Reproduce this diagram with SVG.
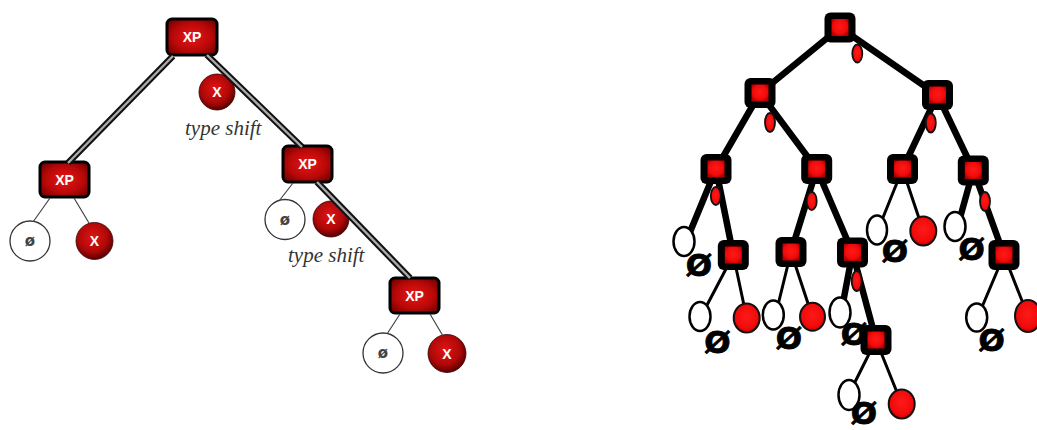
<svg xmlns="http://www.w3.org/2000/svg" width="1037" height="430" viewBox="0 0 1037 430">
<defs>
<radialGradient id="gBox" cx="50%" cy="50%" r="65%">
<stop offset="0" stop-color="#e81616"/><stop offset="0.6" stop-color="#b80808"/><stop offset="1" stop-color="#6e0000"/>
</radialGradient>
<radialGradient id="gBall" cx="45%" cy="40%" r="60%">
<stop offset="0" stop-color="#e01414"/><stop offset="0.65" stop-color="#b00808"/><stop offset="1" stop-color="#5a0000"/>
</radialGradient>
<radialGradient id="gRed" cx="50%" cy="45%" r="60%">
<stop offset="0" stop-color="#ff1a1a"/><stop offset="0.7" stop-color="#f00a0a"/><stop offset="1" stop-color="#b00000"/>
</radialGradient>
<g id="sq"><rect x="-15.5" y="-15" width="31" height="30" rx="6" fill="#000"/><rect x="-8.5" y="-8.5" width="17" height="17" fill="url(#gRed)"/></g>
</defs>
<style>
.xp rect{fill:url(#gBox);stroke:#000;stroke-width:3}
.lbl{font-family:"Liberation Sans",Arial,sans-serif;font-weight:bold;fill:#fff;text-anchor:middle;dominant-baseline:central}
.ball{fill:url(#gBall);stroke:#3a0000;stroke-width:0.8}
.empty{fill:#fff;stroke:#333;stroke-width:1.3}
.emt{font-family:"DejaVu Sans",sans-serif;font-weight:bold;font-size:15px;fill:#444;text-anchor:middle;dominant-baseline:central}
.ts{font-family:"Liberation Serif","Times New Roman",serif;font-style:italic;font-size:21px;fill:#333}
.thin{stroke:#444;stroke-width:1.2;fill:none}
.tripO{stroke:#111;stroke-width:6.5;fill:none}
.tripI{stroke:#aaa;stroke-width:2.4;fill:none}
.rk{stroke:#000;fill:none;stroke-linecap:round}
.thick{stroke-width:6.5}
.rthin{stroke-width:3}
.we{fill:#fff;stroke:#000;stroke-width:2.5}
.rb{fill:url(#gRed);stroke:#111;stroke-width:2}
.mk{fill:url(#gRed);stroke:#111;stroke-width:1.8}
.nul{font-family:"DejaVu Sans",sans-serif;font-weight:bold;font-size:31px;fill:#000;stroke:#000;stroke-width:0.8;text-anchor:middle;dominant-baseline:central}
</style>

<!-- left tree nodes -->
<g id="L-xp-root" class="xp"><rect x="167" y="19" width="50" height="36" rx="5"/><text class="lbl" x="192" y="37" font-size="14">XP</text></g>
<g id="L-x-root"><circle class="ball" cx="217" cy="92" r="18"/><text class="lbl" x="217" y="92" font-size="14">X</text></g>
<g id="L-ts1"><text class="ts" x="185" y="135">type shift</text></g>
<g id="L-xp-left" class="xp"><rect x="40" y="162" width="49" height="35" rx="5"/><text class="lbl" x="64.5" y="179.5" font-size="14">XP</text></g>
<g id="L-empty-left"><circle class="empty" cx="30" cy="241" r="20"/><text class="emt" x="30" y="241">ø</text></g>
<g id="L-x-left"><circle class="ball" cx="94.5" cy="241" r="18.5"/><text class="lbl" x="94.5" y="241" font-size="14">X</text></g>
<g id="L-xp-mid" class="xp"><rect x="283" y="146" width="49" height="36" rx="5"/><text class="lbl" x="307.5" y="164" font-size="14">XP</text></g>
<g id="L-empty-mid"><circle class="empty" cx="285" cy="219.5" r="20"/><text class="emt" x="285" y="219.5">ø</text></g>
<g id="L-x-mid"><circle class="ball" cx="331" cy="219" r="18"/><text class="lbl" x="331" y="219" font-size="14">X</text></g>
<g id="L-ts2"><text class="ts" x="288" y="262">type shift</text></g>
<g id="L-xp-bot" class="xp"><rect x="390" y="278" width="49" height="35" rx="5"/><text class="lbl" x="414.5" y="295.5" font-size="14">XP</text></g>
<g id="L-empty-bot"><circle class="empty" cx="383" cy="353" r="20"/><text class="emt" x="383" y="353">ø</text></g>
<g id="L-x-bot"><circle class="ball" cx="447" cy="353.5" r="19"/><text class="lbl" x="447" y="353.5" font-size="14">X</text></g>

<!-- connectors -->
<g id="connectors">
<path class="tripO" d="M173,56 L68,163 M207,55 L302,147 M317,182 L410,278"/>
<path class="tripI" d="M173,56 L68,163 M207,55 L302,147 M317,182 L410,278"/>
<path class="thin" d="M50,198 L33,222 M74,198 L89,223 M293,183 L279,201 M400,314 L387,334 M430,314 L443,336"/>
<g class="rk thick">
<path d="M840,27.5 L760,93 M840,27.5 L937.5,95 M760,93 L716,169 M760,93 L816.7,169 M937.5,95 L902.5,169 M937.5,95 L973.3,170 M716,169 L690,232 M716,169 L733.3,255 M816.7,169 L791,252 M816.7,169 L852.5,252.5 M973.3,170 L960,218 M973.3,170 L1004,255 M852.5,252.5 L843,303 M852.5,252.5 L876,340"/>
</g>
<g class="rk rthin">
<path d="M902.5,169 L882,220 M902.5,169 L923.3,231 M733.3,255 L706,307 M733.3,255 L746.7,318 M791,252 L778,305 M791,252 L812.5,317 M876,340 L853,386 M876,340 L901.7,404 M1004,255 L982,307 M1004,255 L1028,316"/>
</g>
</g>

<!-- right tree nodes -->
<g id="R-empty-3"><ellipse class="we" cx="684" cy="241.5" rx="10.5" ry="14.5"/><text class="nul" x="699" y="265">Ø</text></g>
<g id="R-empty-5"><ellipse class="we" cx="877" cy="230" rx="10" ry="14.5"/><text class="nul" x="895" y="251">Ø</text></g>
<g id="R-x-5"><ellipse class="rb" cx="923.3" cy="231" rx="13" ry="14.5"/></g>
<g id="R-empty-6"><ellipse class="we" cx="955" cy="226.5" rx="10.5" ry="14.5"/><text class="nul" x="971.7" y="249">Ø</text></g>
<g id="R-empty-7"><ellipse class="we" cx="700" cy="316.5" rx="10.5" ry="14.5"/><text class="nul" x="717.5" y="341.5">Ø</text></g>
<g id="R-x-7"><ellipse class="rb" cx="746.7" cy="318" rx="13" ry="14.5"/></g>
<g id="R-empty-8"><ellipse class="we" cx="773.3" cy="315" rx="10.5" ry="14.5"/><text class="nul" x="789" y="338.3">Ø</text></g>
<g id="R-x-8"><ellipse class="rb" cx="812.5" cy="316.7" rx="12.5" ry="14"/></g>
<g id="R-empty-9"><ellipse class="we" cx="840" cy="312.5" rx="10.5" ry="15"/><text class="nul" x="854" y="334">Ø</text></g>
<g id="R-empty-10"><ellipse class="we" cx="849" cy="395" rx="10.5" ry="15"/><text class="nul" x="864" y="413">Ø</text></g>
<g id="R-x-10"><ellipse class="rb" cx="901.7" cy="404" rx="13" ry="14.5"/></g>
<g id="R-empty-11"><ellipse class="we" cx="976.7" cy="317.5" rx="10.5" ry="14"/><text class="nul" x="991.7" y="340">Ø</text></g>
<g id="R-x-11"><ellipse class="rb" cx="1028" cy="316" rx="13" ry="16"/></g>

<g id="R-n0"><use href="#sq" x="840" y="27.5"/></g>
<g id="R-n1"><use href="#sq" x="760" y="93"/></g>
<g id="R-n2"><use href="#sq" x="937.5" y="95"/></g>
<g id="R-n3"><use href="#sq" x="716" y="169"/></g>
<g id="R-n4"><use href="#sq" x="816.7" y="169"/></g>
<g id="R-n5"><use href="#sq" x="902.5" y="169"/></g>
<g id="R-n6"><use href="#sq" x="973.3" y="170.5"/></g>
<g id="R-n7"><use href="#sq" x="733.3" y="255"/></g>
<g id="R-n8"><use href="#sq" x="791" y="252"/></g>
<g id="R-n9"><use href="#sq" x="852.5" y="252.5"/></g>
<g id="R-n10"><use href="#sq" x="876" y="340"/></g>
<g id="R-n11"><use href="#sq" x="1004" y="255"/></g>

<g id="R-markers">
<ellipse class="mk" cx="857.3" cy="53.5" rx="5" ry="9"/>
<ellipse class="mk" cx="770" cy="122.5" rx="5" ry="9.5"/>
<ellipse class="mk" cx="930.8" cy="123" rx="5" ry="9.5"/>
<ellipse class="mk" cx="715.8" cy="196" rx="5" ry="9"/>
<ellipse class="mk" cx="811.7" cy="201" rx="5" ry="9"/>
<ellipse class="mk" cx="985" cy="201.5" rx="5" ry="9.5"/>
<ellipse class="mk" cx="856.7" cy="281" rx="5" ry="10"/>
</g>
</svg>
